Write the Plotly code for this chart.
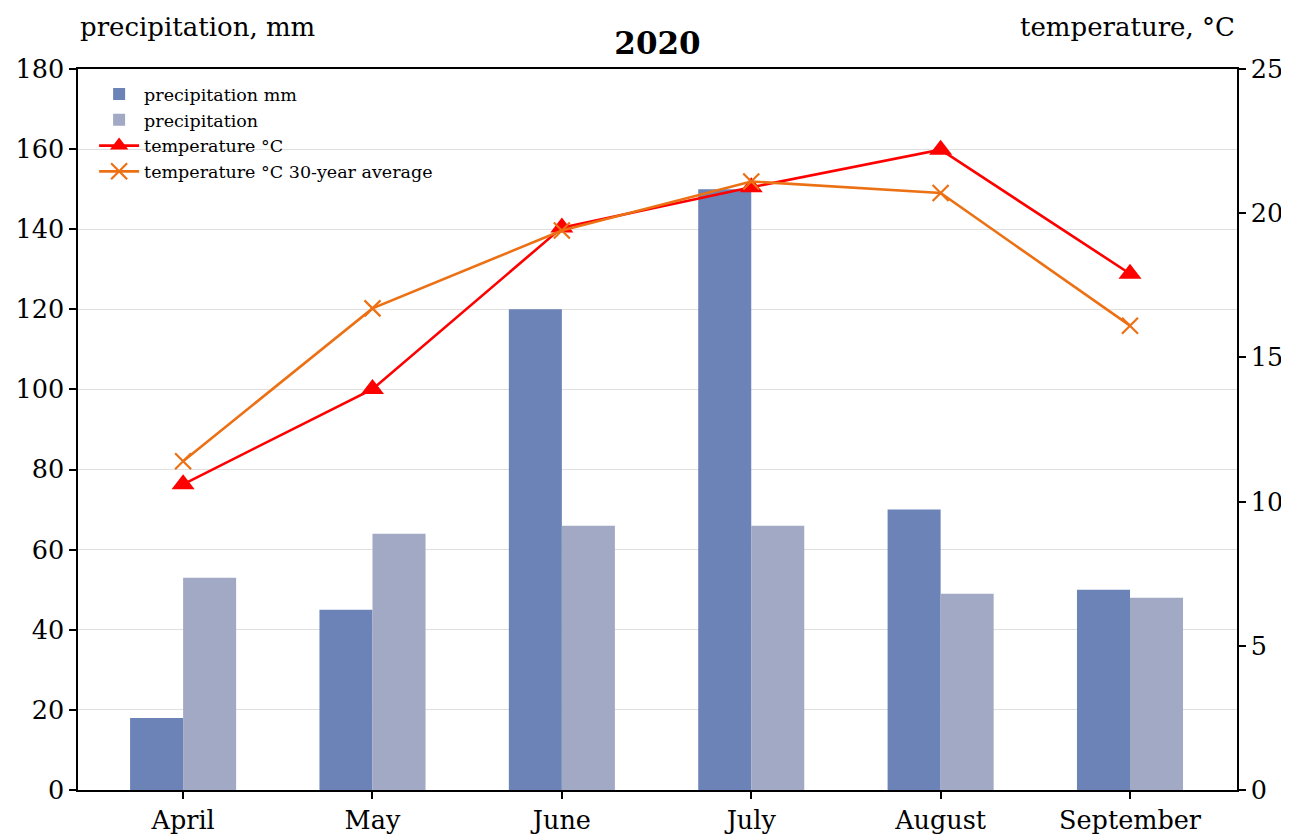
import plotly.graph_objects as go

months = ["April", "May", "June", "July", "August", "September"]
precip_mm = [18, 45, 120, 150, 70, 50]
precip_norm = [53, 64, 66, 66, 49, 48]
temp_c = [10.6, 13.9, 19.5, 20.9, 22.2, 17.9]
temp_avg = [11.4, 16.7, 19.4, 21.1, 20.7, 16.1]
left_ticks = [0, 20, 40, 60, 80, 100, 120, 140, 160, 180]
right_ticks = [0, 5, 10, 15, 20, 25]

x = list(range(len(months)))
FONT = "DejaVu Serif"
# the page body adds an 8px offset; size the figure to fill the rest of the window
OFF = 8
W, H = 1289 - OFF, 834 - OFF
L, R, T, B = 78 - OFF, 52, 69 - OFF, 44
PLOT_H = H - T - B
label_y = (H - B - (27 - OFF)) / PLOT_H

fig = go.Figure()
fig.add_trace(go.Bar(x=x, y=precip_mm, name="precipitation mm", width=0.28, offset=-0.28,
                     marker=dict(color="#6b83b6", line=dict(width=0)), yaxis="y"))
fig.add_trace(go.Bar(x=x, y=precip_norm, name="precipitation", width=0.28, offset=0,
                     marker=dict(color="#a1a9c4", line=dict(width=0)), yaxis="y"))
fig.add_trace(go.Scatter(x=x, y=temp_c, name="temperature °C", mode="lines+markers",
                         line=dict(color="#ff0000", width=2.6),
                         marker=dict(symbol="triangle-up", size=20, color="#ff0000"),
                         yaxis="y2"))
fig.add_trace(go.Scatter(x=x, y=temp_avg, name="temperature °C 30-year average", mode="lines+markers",
                         line=dict(color="#ec7014", width=2.6),
                         marker=dict(symbol="x-thin-open", size=16, color="#ec7014",
                                     line=dict(color="#ec7014", width=2.2)),
                         yaxis="y2"))

fig.update_layout(
    width=W, height=H,
    margin=dict(l=L, r=R, t=T, b=B, autoexpand=False),
    plot_bgcolor="white", paper_bgcolor="white",
    font=dict(family=FONT, color="black", size=26),
    barmode="overlay",
    showlegend=True,
    legend=dict(x=0.0139, y=0.99, xanchor="left", yanchor="top",
                bgcolor="rgba(255,255,255,0)", font=dict(size=17.5, family=FONT),
                tracegroupgap=0, itemwidth=40),
    title=dict(text="<b>2020</b>", x=0.5, xref="paper", yref="container",
               y=1 - (43 - OFF) / H, yanchor="middle", font=dict(size=31, family=FONT)),
    xaxis=dict(range=[-0.555, 5.565], tickvals=x, ticktext=months, automargin=False,
               showline=True, linecolor="black", linewidth=1.5, mirror=True,
               ticks="outside", ticklen=7, tickwidth=1.5, tickcolor="black",
               showgrid=False, zeroline=False, tickfont=dict(size=25.5)),
    yaxis=dict(range=[0, 180], tickvals=left_ticks, automargin=False,
               showline=True, linecolor="black", linewidth=1.5,
               ticks="outside", ticklen=7, tickwidth=1.5, tickcolor="black",
               showgrid=True, gridcolor="#e0e0e0", gridwidth=1, zeroline=False,
               tickfont=dict(size=25.5)),
    yaxis2=dict(range=[0, 25], tickvals=right_ticks, overlaying="y", side="right",
                automargin=False,
                showline=True, linecolor="black", linewidth=1.5,
                ticks="outside", ticklen=7, tickwidth=1.5, tickcolor="black",
                showgrid=False, zeroline=False, tickfont=dict(size=25.5)),
    annotations=[
        dict(text="precipitation, mm", x=0, xref="paper", xanchor="left",
             y=label_y, yref="paper", yanchor="middle",
             showarrow=False, font=dict(size=26, family=FONT)),
        dict(text="temperature, °C", x=1, xref="paper", xanchor="right",
             y=label_y, yref="paper", yanchor="middle",
             showarrow=False, font=dict(size=26, family=FONT)),
    ],
)

fig.write_html("out.html")
